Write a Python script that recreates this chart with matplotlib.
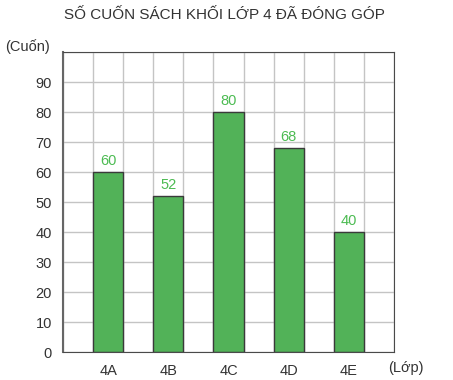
import numpy as np
import matplotlib.pyplot as plt

# data
classes = ["4A", "4B", "4C", "4D", "4E"]
books = [60, 52, 80, 68, 40]
y_ticks = [0, 10, 20, 30, 40, 50, 60, 70, 80, 90]

plt.rcParams['font.family'] = ['Liberation Sans', 'DejaVu Sans']

fig = plt.figure(figsize=(4.53, 3.80), dpi=100)
ax = fig.add_axes([63/453, 1-352/380, 331/453, 300/380])

# bars sit in every second grid column
x = np.arange(len(classes))*2 + 1.5
ax.bar(x, books, width=1, color="#52b258", edgecolor="#3a3a3a",
       linewidth=1, zorder=2)
for xi, v in zip(x, books):
    ax.annotate(str(v), (xi, v), xytext=(0, 3), textcoords="offset points",
                ha="center", va="bottom", color="#4cbb52", fontsize=10.5)

ax.set_xlim(0, 11)
ax.set_ylim(0, 100)
ax.set_xticks(np.arange(0, 12), minor=False)
ax.set_xticklabels([])
ax.set_yticks(np.arange(0, 101, 10))
ax.set_yticklabels([str(t) for t in y_ticks] + [""])
ax.grid(True, color="#c4c4c4", linewidth=1, zorder=0)
ax.tick_params(length=0, pad=8, labelsize=10.5, labelcolor="#333333")
for s in ["top", "right", "bottom"]:
    ax.spines[s].set_color("#4a4a4a")
ax.spines["left"].set_color("#666666")
ax.spines["left"].set_linewidth(1.5)

for xi, c in zip(x, classes):
    ax.text(xi, -4, c, ha="center", va="top", fontsize=10.5, color="#333333")
fig.text(406/453, 1-368/380, "(Lớp)", ha="center", va="center",
         fontsize=10.5, color="#333333")
fig.text(27/453, 1-47/380, "(Cuốn)", ha="center", va="center",
         fontsize=10.5, color="#333333")
fig.text(224/453, 1-15/380, "SỐ CUỐN SÁCH KHỐI LỚP 4 ĐÃ ĐÓNG GÓP",
         ha="center", va="center", fontsize=11, color="#333333")

fig.savefig("out.png", dpi=100)
